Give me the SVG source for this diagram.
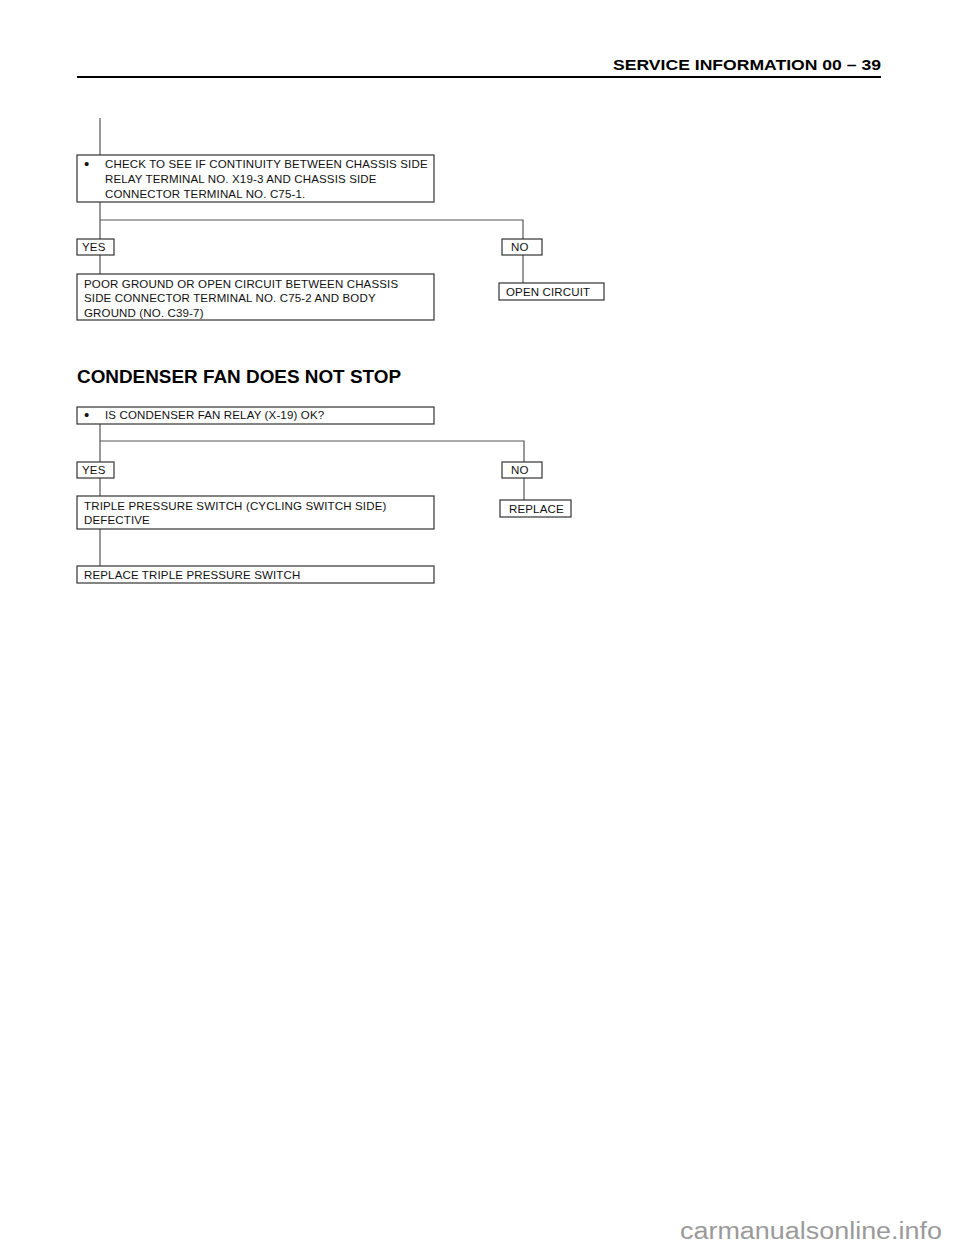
<svg xmlns="http://www.w3.org/2000/svg" width="960" height="1250" viewBox="0 0 960 1250">
<style>
.bg{fill:#fff}
.box{fill:#fff;stroke:#333;stroke-width:1.2}
.con{fill:none;stroke:#555;stroke-width:1.2}
.t{font-family:"Liberation Sans",Arial,sans-serif;font-size:11.5px;letter-spacing:0.15px;fill:#111}
.b{font-family:"Liberation Sans",Arial,sans-serif;font-size:15px;fill:#111}
.hd{font-family:"Liberation Sans",Arial,sans-serif;font-weight:bold;fill:#000}
.wm{font-family:"Liberation Sans",Arial,sans-serif;font-size:23px;fill:#9a9a9a}
</style>
<rect class="bg" x="0" y="0" width="960" height="1250"/>
<g id="header">
<text class="hd" x="613" y="70" font-size="15.5" textLength="268" lengthAdjust="spacingAndGlyphs">SERVICE INFORMATION  00 – 39</text>
<line x1="77" y1="77" x2="881" y2="77" stroke="#000" stroke-width="2"/>
</g>
<g id="connectors">
<path class="con" d="M100,118 V155"/>
<path class="con" d="M100,202 V239 M100,220 H523 V239"/>
<path class="con" d="M100,255 V274"/>
<path class="con" d="M523,255 V283"/>
<path class="con" d="M100,424 V462 M100,441 H524 V462"/>
<path class="con" d="M100,478 V496"/>
<path class="con" d="M524,477 V500"/>
<path class="con" d="M100,529 V566"/>
</g>
<g id="n1">
<rect class="box" x="77" y="155" width="357" height="47"/>
<text class="b" x="84" y="169">•</text>
<text class="t" x="105" y="168">CHECK TO SEE IF CONTINUITY BETWEEN CHASSIS SIDE</text>
<text class="t" x="105" y="183">RELAY TERMINAL NO. X19-3 AND CHASSIS SIDE</text>
<text class="t" x="105" y="198">CONNECTOR TERMINAL NO. C75-1.</text>
</g>
<g id="n1yes">
<rect class="box" x="77" y="239" width="37" height="16"/>
<text class="t" x="82" y="251">YES</text>
</g>
<g id="n1no">
<rect class="box" x="502" y="239" width="40" height="16"/>
<text class="t" x="511" y="251">NO</text>
</g>
<g id="n2">
<rect class="box" x="77" y="274" width="357" height="46"/>
<text class="t" x="84" y="288">POOR GROUND OR OPEN CIRCUIT BETWEEN CHASSIS</text>
<text class="t" x="84" y="302">SIDE CONNECTOR TERMINAL NO. C75-2 AND BODY</text>
<text class="t" x="84" y="316.5">GROUND (NO. C39-7)</text>
</g>
<g id="n3">
<rect class="box" x="499" y="283" width="105" height="17"/>
<text class="t" x="506" y="296">OPEN CIRCUIT</text>
</g>
<g id="title">
<text class="hd" x="77" y="383" font-size="18.5" textLength="324" lengthAdjust="spacingAndGlyphs">CONDENSER FAN DOES NOT STOP</text>
</g>
<g id="n4">
<rect class="box" x="77" y="407" width="357" height="17"/>
<text class="b" x="84" y="420">•</text>
<text class="t" x="105" y="419">IS CONDENSER FAN RELAY (X-19) OK?</text>
</g>
<g id="n4yes">
<rect class="box" x="77" y="462" width="37" height="16"/>
<text class="t" x="82" y="474">YES</text>
</g>
<g id="n4no">
<rect class="box" x="502" y="462" width="40" height="16"/>
<text class="t" x="511" y="474">NO</text>
</g>
<g id="n5">
<rect class="box" x="77" y="496" width="357" height="33"/>
<text class="t" x="84" y="510">TRIPLE PRESSURE SWITCH (CYCLING SWITCH SIDE)</text>
<text class="t" x="84" y="524">DEFECTIVE</text>
</g>
<g id="n6">
<rect class="box" x="500" y="500" width="71" height="17"/>
<text class="t" x="509" y="513">REPLACE</text>
</g>
<g id="n7">
<rect class="box" x="77" y="566" width="357" height="17"/>
<text class="t" x="84" y="579">REPLACE TRIPLE PRESSURE SWITCH</text>
</g>
<text class="wm" x="680" y="1239" textLength="262" lengthAdjust="spacingAndGlyphs">carmanualsonline.info</text>
</svg>
